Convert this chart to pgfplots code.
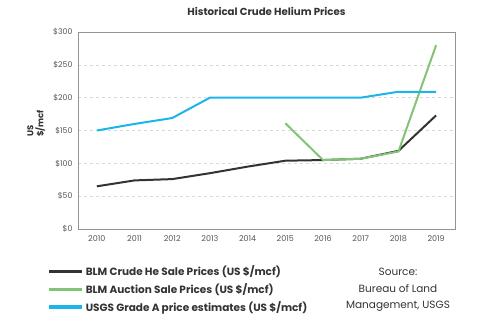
\documentclass[border=0pt]{standalone}
\usepackage{pgfplots}
\pgfplotsset{compat=1.18}
\usepackage{fontspec}
\setmainfont{Poppins}
\definecolor{cblack}{HTML}{333333}
\definecolor{cgreen}{HTML}{82C475}
\definecolor{cblue}{HTML}{1BB5E9}
\definecolor{tickgray}{HTML}{555555}
\begin{document}
\begin{tikzpicture}
\begin{axis}[
  at={(0,0)}, anchor=south west,
  scale only axis, width=377pt, height=197pt,
  xmin=2009.5, xmax=2019.5, ymin=0, ymax=300,
  xtick={2010,...,2019}, ytick={0,50,...,300},
  /pgf/number format/assume math mode=true,
  xticklabel style={/pgf/number format/1000 sep=, font=\fontsize{8}{9}\selectfont, text=tickgray, yshift=-3pt},
  yticklabel={\$\pgfmathprintnumber{\tick}},
  yticklabel style={font=\fontsize{7.8}{9}\selectfont, text=tickgray, xshift=-2pt},
  major tick length=0pt,
  axis line style={draw=gray!85},
  ymajorgrids, grid style={dashed, gray!30, line width=0.6pt},
  ylabel={US\\\$/mcf},
  ylabel style={align=left, font=\fontsize{8.5}{10}\selectfont\bfseries, at={(axis description cs:-0.078,0.535)}, text=cblack},
  title={Historical Crude Helium Prices},
  title style={font=\fontsize{10.2}{11}\selectfont\bfseries, at={(axis description cs:0.5,1.035)}, anchor=south, text=cblack},
  legend style={at={(axis description cs:-0.082,-0.175)}, anchor=north west, draw=none, fill=none,
    font=\fontsize{10.5}{11}\selectfont\bfseries, text=cblack, row sep=2.4pt, inner sep=0pt},
  legend cell align=left,
  legend image code/.code={\draw[#1, line width=3.5pt] (0pt,0pt) -- (33pt,0pt);},
]
\addplot[cblack, line width=2pt] coordinates {(2010,65) (2011,74) (2012,76) (2013,85) (2014,95) (2015,104) (2016,105) (2017,107) (2018,119) (2019,173)};
\addlegendentry{BLM Crude He Sale Prices (US \$/mcf)}
\addplot[cgreen, line width=2pt] coordinates {(2015,161) (2016,105) (2017,107) (2018,118) (2019,280)};
\addlegendentry{BLM Auction Sale Prices (US \$/mcf)}
\addplot[cblue, line width=2pt] coordinates {(2010,150) (2011,160) (2012,169) (2013,200) (2014,200) (2015,200) (2016,200) (2017,200) (2018,209) (2019,209)};
\addlegendentry{USGS Grade A price estimates (US \$/mcf)}
\end{axis}
\node[align=center, font=\fontsize{10.5}{16.5}\selectfont, text=cblack, anchor=north] at (320pt,-36pt) {Source:\\Bureau of Land\\Management, USGS};
\pgfresetboundingbox
\useasboundingbox (-78pt,-101pt) rectangle (418pt,229pt);
\end{tikzpicture}
\end{document}
